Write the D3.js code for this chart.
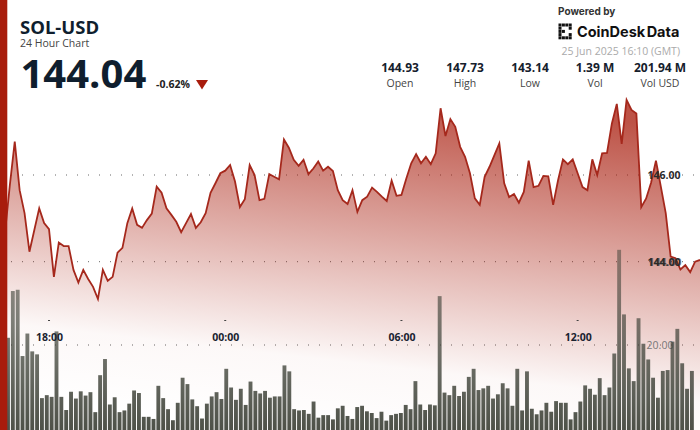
<!DOCTYPE html>
<html>
<head>
<meta charset="utf-8">
<script src="https://cdn.jsdelivr.net/npm/d3@7"></script>
<style>
  html, body { margin: 0; padding: 0; background: #fff; overflow: hidden; }
  text { font-family: "Open Sans", "Noto Sans", sans-serif; }
  .axis path, .axis line { display: none; }
</style>
</head>
<body>
<div id="chart"></div>
<script>
// price, one value per 10 minutes
var prices = [144.66,145.77,146.77,145.65,145.12,144.23,144.73,145.23,144.89,144.75,143.65,
  144.44,144.36,144.36,143.81,143.52,143.81,143.60,143.42,143.14,143.81,
  143.56,143.65,144.21,144.32,144.89,145.23,144.85,144.78,144.96,145.11,
  145.73,145.59,145.23,145.08,144.92,144.68,144.89,145.10,144.78,144.91,
  145.12,145.59,145.81,146.04,146.10,146.23,145.85,145.26,145.44,146.23,
  146.00,145.42,145.45,146.02,145.96,145.90,146.82,146.63,146.35,146.21,
  146.35,146.02,146.15,146.31,146.10,146.19,146.09,145.65,145.42,145.33,
  145.65,145.15,145.42,145.50,145.71,145.61,145.50,145.40,145.87,145.52,
  145.54,145.92,146.27,146.48,146.27,146.42,146.25,146.50,147.54,146.90,
  147.29,147.11,146.65,146.42,146.04,145.46,145.31,145.96,146.19,146.46,
  146.73,145.81,145.49,145.56,145.36,145.61,146.33,145.72,145.75,145.98,
  145.97,145.31,145.88,146.36,146.25,146.36,146.04,145.72,145.65,146.36,
  146.00,146.50,146.51,147.19,147.64,146.72,147.73,147.50,147.42,145.26,
  145.46,145.82,146.33,145.73,145.12,144.12,144.08,143.82,143.92,143.76,
  144.00,144.04];

var volumes = [21.7,32.7,33.0,17.4,22.7,18.5,17.8,7.5,8.2,7.8,
  23.2,7.8,4.7,9.0,7.4,9.1,8.1,8.9,4.2,12.9,
  16.7,6.0,7.7,4.2,4.6,6.2,9.3,8.7,3.1,3.1,
  2.6,10.4,7.5,4.9,2.3,6.4,12.3,10.8,7.2,5.6,
  2.7,6.2,7.9,8.9,7.3,14.4,10.0,7.1,9.7,5.9,
  11.4,9.2,8.6,9.2,7.6,7.9,7.9,15.2,13.8,4.9,
  4.6,4.7,3.8,6.7,2.9,3.5,3.5,2.5,5.1,5.7,
  3.3,2.6,5.4,5.7,4.4,4.0,2.8,4.3,2.2,3.5,
  3.8,4.0,5.9,4.9,11.5,6.0,4.7,6.0,5.8,31.5,
  8.8,8.2,10.4,8.0,9.0,12.5,14.4,9.4,9.8,10.4,
  7.4,8.4,11.0,9.8,5.7,14.4,4.6,13.8,5.0,3.7,
  4.6,6.4,4.3,6.8,6.4,6.4,2.5,4.2,6.7,10.5,
  9.7,8.3,12.2,8.2,10.0,18.0,42.4,27.2,14.5,11.5,
  26.3,20.3,16.6,12.3,7.6,13.9,14.1,20.8,23.8,15.7,
  9.7,13.9];

var timeTicks = [9, 45, 81, 117];
var timeLabels = ["18:00", "00:00", "06:00", "12:00"];
var priceTicks = [144, 146];
var volumeTicks = [20];

var statValues = ["144.93", "147.73", "143.14", "1.39 M", "201.94 M"];
var statNames = ["Open", "High", "Low", "Vol", "Vol USD"];

var width = 700, height = 430;
var red = "#a81c0c";

var svg = d3.select("#chart").append("svg")
  .attr("width", width)
  .attr("height", height)
  .style("display", "block");

var x = d3.scaleLinear().domain([0, prices.length - 1]).range([4.96, 700]);
var y = d3.scaleLinear().domain([144, 146]).range([261.7, 175]);
var xBar = d3.scaleBand().domain(d3.range(volumes.length)).range([5.07, 694.8]).padding(0.2);
var yVol = d3.scaleLinear().domain([0, 20]).range([430, 345]);

var defs = svg.append("defs");
var grad = defs.append("linearGradient")
  .attr("id", "areaFill")
  .attr("x1", 0.62).attr("y1", 0)
  .attr("x2", 0.38).attr("y2", 1);
grad.append("stop").attr("offset", "0%").attr("stop-color", red).attr("stop-opacity", 0.76);
grad.append("stop").attr("offset", "78%").attr("stop-color", red).attr("stop-opacity", 0.03);
grad.append("stop").attr("offset", "100%").attr("stop-color", red).attr("stop-opacity", 0);

// bars get more see-through towards the top
var barGrad = defs.append("linearGradient")
  .attr("id", "barFill")
  .attr("gradientUnits", "userSpaceOnUse")
  .attr("x1", 0).attr("y1", 250)
  .attr("x2", 0).attr("y2", 430);
barGrad.append("stop").attr("offset", "0%").attr("stop-color", "#3a3e34").attr("stop-opacity", 0.5);
barGrad.append("stop").attr("offset", "100%").attr("stop-color", "#3a3e34").attr("stop-opacity", 0.9);

// dotted grid
var gridY = priceTicks.map(function (d) { return y(d); }).concat(volumeTicks.map(function (d) { return yVol(d); }));
svg.selectAll("line.grid")
  .data(gridY)
  .enter()
  .append("line")
  .attr("class", "grid")
  .attr("x1", 11)
  .attr("x2", width)
  .attr("y1", function (d) { return d; })
  .attr("y2", function (d) { return d; })
  .attr("stroke", "#666")
  .attr("stroke-width", 1)
  .attr("stroke-dasharray", "1 10");

// area and line
var area = d3.area()
  .x(function (d, i) { return x(i); })
  .y0(height)
  .y1(function (d) { return y(d); });
var line = d3.line()
  .x(function (d, i) { return x(i); })
  .y(function (d) { return y(d); });

svg.append("path")
  .datum(prices)
  .attr("d", area)
  .attr("fill", "url(#areaFill)");

// volume label sits under the bars
svg.selectAll("text.volLabel")
  .data(volumeTicks)
  .enter()
  .append("text")
  .attr("class", "volLabel")
  .attr("x", 660)
  .attr("y", function (d) { return yVol(d) + 4; })
  .attr("text-anchor", "middle")
  .attr("font-size", 10.5)
  .attr("fill", "#777")
  .text(function (d) { return d3.format(".2f")(d); });

svg.selectAll("rect.bar")
  .data(volumes)
  .enter()
  .append("rect")
  .attr("class", "bar")
  .attr("x", function (d, i) { return xBar(i); })
  .attr("width", xBar.bandwidth())
  .attr("y", function (d) { return yVol(d); })
  .attr("height", function (d) { return yVol(0) - yVol(d); })
  .attr("fill", "url(#barFill)");

svg.append("path")
  .datum(prices)
  .attr("d", line)
  .attr("fill", "none")
  .attr("stroke", "#a5281c")
  .attr("stroke-width", 1.8);

// time axis
svg.selectAll("rect.tickDot")
  .data(timeTicks)
  .enter()
  .append("rect")
  .attr("class", "tickDot")
  .attr("x", function (d) { return x(d) - 1; })
  .attr("y", 320)
  .attr("width", 2)
  .attr("height", 1)
  .attr("fill", "#444");

var xAxis = d3.axisBottom(x)
  .tickValues(timeTicks)
  .tickSize(0)
  .tickPadding(0)
  .tickFormat(function (d, i) { return timeLabels[i]; });
svg.append("g")
  .attr("class", "axis")
  .attr("transform", "translate(0,334)")
  .call(xAxis)
  .selectAll("text")
  .attr("font-size", 10.5)
  .attr("font-weight", 700)
  .attr("fill", "#1a2330")
  .style("font-family", "'Open Sans', sans-serif");

// price axis, 144.00 is drawn twice in the original
var yAxis = d3.axisRight(y)
  .tickValues(priceTicks)
  .tickSize(0)
  .tickPadding(0)
  .tickFormat(d3.format(".2f"));
svg.append("g")
  .attr("class", "axis")
  .attr("transform", "translate(647.5,0.5)")
  .call(yAxis)
  .selectAll("text")
  .attr("font-size", 10.5)
  .attr("font-weight", 700)
  .attr("fill", "#2a2a2a")
  .style("font-family", "'Open Sans', sans-serif");
svg.append("text")
  .attr("x", 648.5)
  .attr("y", y(144) + 4)
  .attr("font-size", 10.5)
  .attr("font-weight", 700)
  .attr("fill", "#2a2a2a")
  .attr("fill-opacity", 0.6)
  .text("144.00");

// left edge bar
svg.append("rect")
  .attr("width", 7.3)
  .attr("height", height)
  .attr("fill", red);

// header
svg.append("text").attr("x", 20).attr("y", 33.5)
  .attr("font-size", 18.5).attr("font-weight", 700).attr("fill", "#0f1e2e").text("SOL-USD");
svg.append("text").attr("x", 20).attr("y", 47)
  .attr("font-size", 10.5).attr("fill", "#444").text("24 Hour Chart");
svg.append("text").attr("x", 20.5).attr("y", 87.5)
  .attr("font-size", 40).attr("font-weight", 700).attr("fill", "#0f1e2e").text("144.04");
svg.append("text").attr("x", 156).attr("y", 88)
  .attr("font-size", 10.5).attr("font-weight", 700).attr("fill", "#222").text("-0.62%");
svg.append("path")
  .attr("d", d3.line()([[196, 80], [208, 80], [202, 89.5]]) + "Z")
  .attr("fill", red);

// stats row
var statX = d3.scalePoint().domain(statNames).range([400, 660]);
svg.selectAll("text.statValue")
  .data(statValues)
  .enter()
  .append("text")
  .attr("class", "statValue")
  .attr("x", function (d, i) { return statX(statNames[i]); })
  .attr("y", 72)
  .attr("text-anchor", "middle")
  .attr("font-size", 12)
  .attr("font-weight", 700)
  .attr("fill", "#15202c")
  .text(function (d) { return d; });
svg.selectAll("text.statName")
  .data(statNames)
  .enter()
  .append("text")
  .attr("class", "statName")
  .attr("x", function (d) { return statX(d); })
  .attr("y", 87)
  .attr("text-anchor", "middle")
  .attr("font-size", 10.5)
  .attr("fill", "#444")
  .text(function (d) { return d; });

// branding
svg.append("text").attr("x", 558).attr("y", 14.5)
  .attr("font-size", 10).attr("font-weight", 700).attr("fill", "#333")
  .style("font-family", "Inter, sans-serif").text("Powered by");
var logoCells = [[0,0],[1,0],[2,0],[3,0],[0,1],[3,1],[0,2],[1,2],[0,3],[3,3],[0,4],[1,4],[2,4],[3,4]];
svg.selectAll("rect.logo")
  .data(logoCells)
  .enter()
  .append("rect")
  .attr("class", "logo")
  .attr("x", function (d) { return 558.5 + d[0] * 3.4; })
  .attr("y", function (d) { return 23.5 + d[1] * 3.2; })
  .attr("width", 3)
  .attr("height", 3)
  .attr("fill", "#111");
svg.append("text").attr("x", 577).attr("y", 36.5)
  .attr("font-size", 14.5).attr("font-weight", 700).attr("fill", "#111")
  .attr("word-spacing", -2)
  .style("font-family", "Inter, sans-serif").text("CoinDesk Data");
svg.append("text").attr("x", 680).attr("y", 55)
  .attr("text-anchor", "end")
  .attr("font-size", 10.5).attr("fill", "#aaa").text("25 Jun 2025 16:10 (GMT)");
</script>
</body>
</html>
